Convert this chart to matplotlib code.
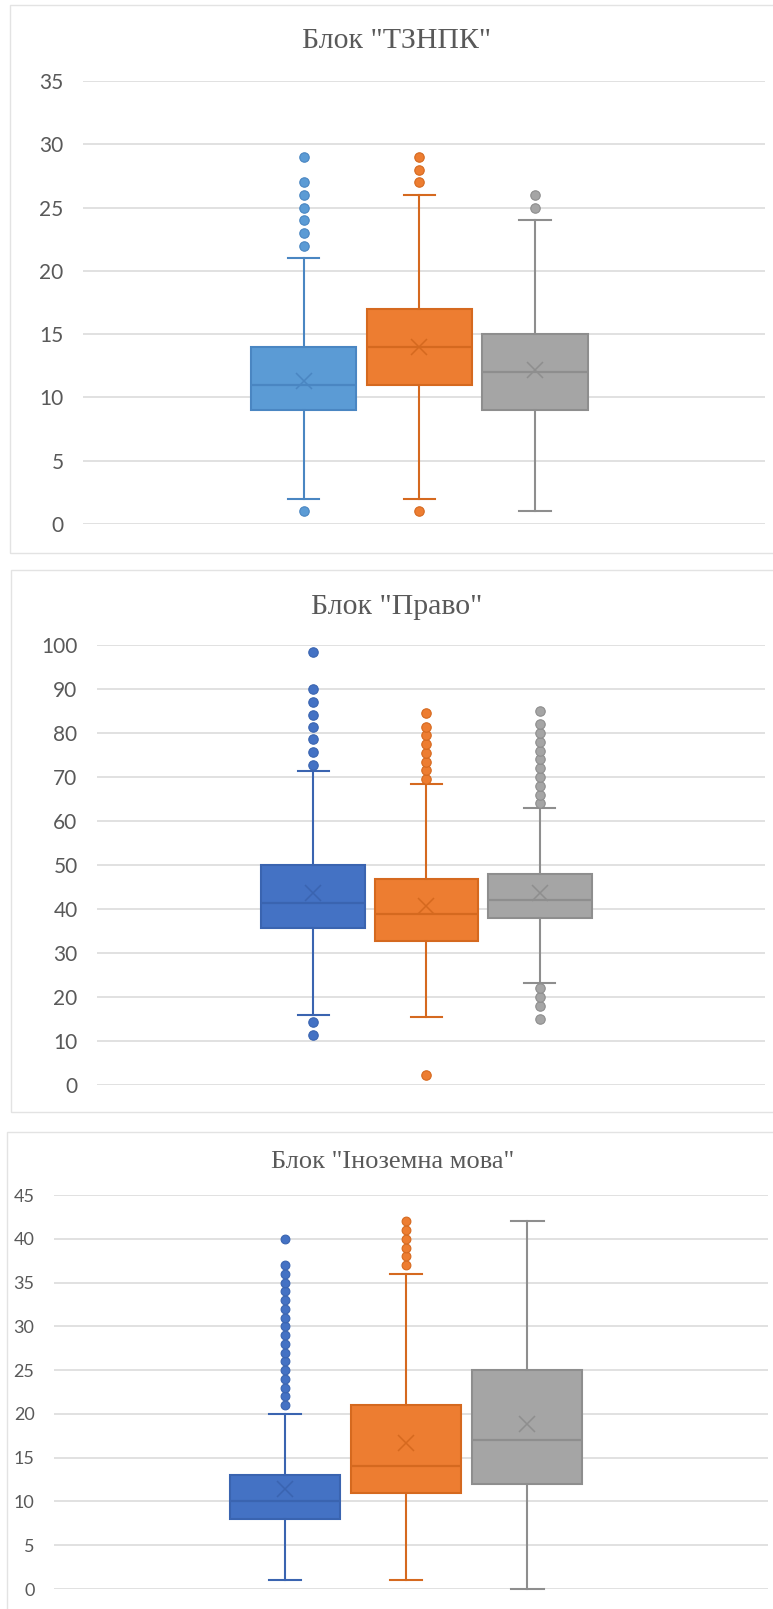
import matplotlib
matplotlib.use("Agg")
import matplotlib.pyplot as plt
from matplotlib.patches import Rectangle

# ---------------- data ----------------
titles = ['Блок "ТЗНПК"', 'Блок "Право"', 'Блок "Іноземна мова"']

# Panel 1: ТЗНПК
t_q1 = [9, 11, 9]
t_med = [11, 14, 12]
t_q3 = [14, 17, 15]
t_lo = [2, 2, 1]
t_hi = [21, 26, 24]
t_mean = [11.3, 14.0, 12.15]
t_fl_blue = [1, 22, 23, 24, 25, 26, 27, 29]
t_fl_orange = [1, 27, 28, 29]
t_fl_gray = [25, 26]
t_ticks = [0, 5, 10, 15, 20, 25, 30, 35]

# Panel 2: Право
p_q1 = [35.7, 32.7, 38.0]
p_med = [41.4, 38.8, 42.0]
p_q3 = [49.9, 46.9, 48.0]
p_lo = [15.8, 15.4, 23.1]
p_hi = [71.4, 68.3, 62.9]
p_mean = [43.6, 40.7, 43.7]
p_fl_blue = [11.4, 14.3, 72.7, 75.6, 78.6, 81.4, 84.2, 87.0, 89.9, 98.5]
p_fl_orange = [2.2, 69.5, 71.5, 73.5, 75.5, 77.5, 79.5, 81.4, 84.6]
p_fl_gray = [15.1, 18.0, 20.1, 22.0, 64.0, 66.0, 68.0, 70.0, 72.0, 74.0,
             76.0, 78.0, 80.0, 82.0, 84.9]
p_ticks = [0, 10, 20, 30, 40, 50, 60, 70, 80, 90, 100]

# Panel 3: Іноземна мова
f_q1 = [8, 11, 12]
f_med = [10, 14, 17]
f_q3 = [13, 21, 25]
f_lo = [1, 1, 0]
f_hi = [20, 36, 42]
f_mean = [11.4, 16.7, 18.9]
f_fl_blue = [21, 22, 23, 24, 25, 26, 27, 28, 29, 30, 31, 32, 33, 34, 35, 36, 37, 40]
f_fl_orange = [37, 38, 39, 40, 41, 42]
f_fl_gray = []
f_ticks = [0, 5, 10, 15, 20, 25, 30, 35, 40, 45]

# ---------------- styling ----------------
W, H = 773, 1609
fig = plt.figure(figsize=(W / 100, H / 100), dpi=100)
fig.patch.set_facecolor("white")

GRID = "#D9D9D9"
TXT = "#595959"

def px_axes(left, top, right, bottom):
    return fig.add_axes([left / W, 1 - bottom / H, (right - left) / W, (bottom - top) / H])

def border(x0, y0, x1, y1):
    fig.patches.append(Rectangle((x0 / W, 1 - y1 / H), (x1 - x0) / W, (y1 - y0) / H,
                                 transform=fig.transFigure, fill=False,
                                 edgecolor="#E3E3E3", linewidth=1.0))

def panel(ax, q1, med, q3, lo, hi, mean, fliers, ticks, fills, edges,
          fsize, msize, wid):
    stats = []
    for i in range(3):
        stats.append(dict(q1=q1[i], med=med[i], q3=q3[i], whislo=lo[i],
                          whishi=hi[i], mean=mean[i], fliers=fliers[i]))
    for i in range(3):
        ax.bxp([stats[i]], positions=[i + 1], widths=wid, patch_artist=True,
               showmeans=True, showfliers=True,
               boxprops=dict(facecolor=fills[i], edgecolor=edges[i], linewidth=1.5),
               medianprops=dict(color=edges[i], linewidth=1.6),
               whiskerprops=dict(color=edges[i], linewidth=1.5),
               capprops=dict(color=edges[i], linewidth=1.5),
               capwidths=0.27,
               meanprops=dict(marker="x", markeredgecolor=edges[i],
                              markersize=12, markeredgewidth=1.1),
               flierprops=dict(marker="o", markerfacecolor=fills[i],
                               markeredgecolor=edges[i], markersize=msize,
                               markeredgewidth=0.8))
    for art in ax.get_children():
        try:
            art.set_clip_on(False)
        except Exception:
            pass
    ax.set_xlim(-0.91, 4.99)
    ax.set_ylim(ticks[0], ticks[-1])
    ax.set_yticks(ticks)
    ax.set_yticklabels([str(t) for t in ticks], fontfamily="Lato", fontsize=fsize, color=TXT)
    ax.set_xticks([])
    ax.tick_params(axis="y", length=0, pad=14)
    for s in ax.spines.values():
        s.set_visible(False)
    ax.set_axisbelow(True)
    ax.yaxis.grid(True, color=GRID, linewidth=1.1)
    ax.set_facecolor("none")

# panel borders
border(10, 5, 790, 553)
border(11, 570, 790, 1112)
border(7, 1132, 790, 1640)

# Panel 1
fills1 = ["#5B9BD5", "#ED7D31", "#A5A5A5"]
edges1 = ["#4A86C2", "#D5691F", "#8E8E8E"]
ax1 = px_axes(83, 81, 765, 524)
panel(ax1, t_q1, t_med, t_q3, t_lo, t_hi, t_mean,
      [t_fl_blue, t_fl_orange, t_fl_gray], t_ticks, fills1, edges1, 15, 6.8, 0.911)
fig.text(397 / W, 1 - 48 / H, titles[0], ha="center", va="baseline",
         fontfamily="Liberation Serif", fontsize=21.5, color=TXT)

# Panel 2
fills2 = ["#4472C4", "#ED7D31", "#A5A5A5"]
edges2 = ["#3A64B0", "#D5691F", "#8E8E8E"]
ax2 = px_axes(97, 645, 765, 1085)
panel(ax2, p_q1, p_med, p_q3, p_lo, p_hi, p_mean,
      [p_fl_blue, p_fl_orange, p_fl_gray], p_ticks, fills2, edges2, 15, 6.8, 0.918)
fig.text(397 / W, 1 - 614 / H, titles[1], ha="center", va="baseline",
         fontfamily="Liberation Serif", fontsize=21.5, color=TXT)

# Panel 3
ax3 = px_axes(54, 1195, 768, 1589)
panel(ax3, f_q1, f_med, f_q3, f_lo, f_hi, f_mean,
      [f_fl_blue, f_fl_orange, f_fl_gray], f_ticks, fills2, edges2, 13, 6.3, 0.905)
fig.text(393 / W, 1 - 1168 / H, titles[2], ha="center", va="baseline",
         fontfamily="Liberation Serif", fontsize=19, color=TXT)

fig.savefig("out.png", dpi=100, facecolor="white")
